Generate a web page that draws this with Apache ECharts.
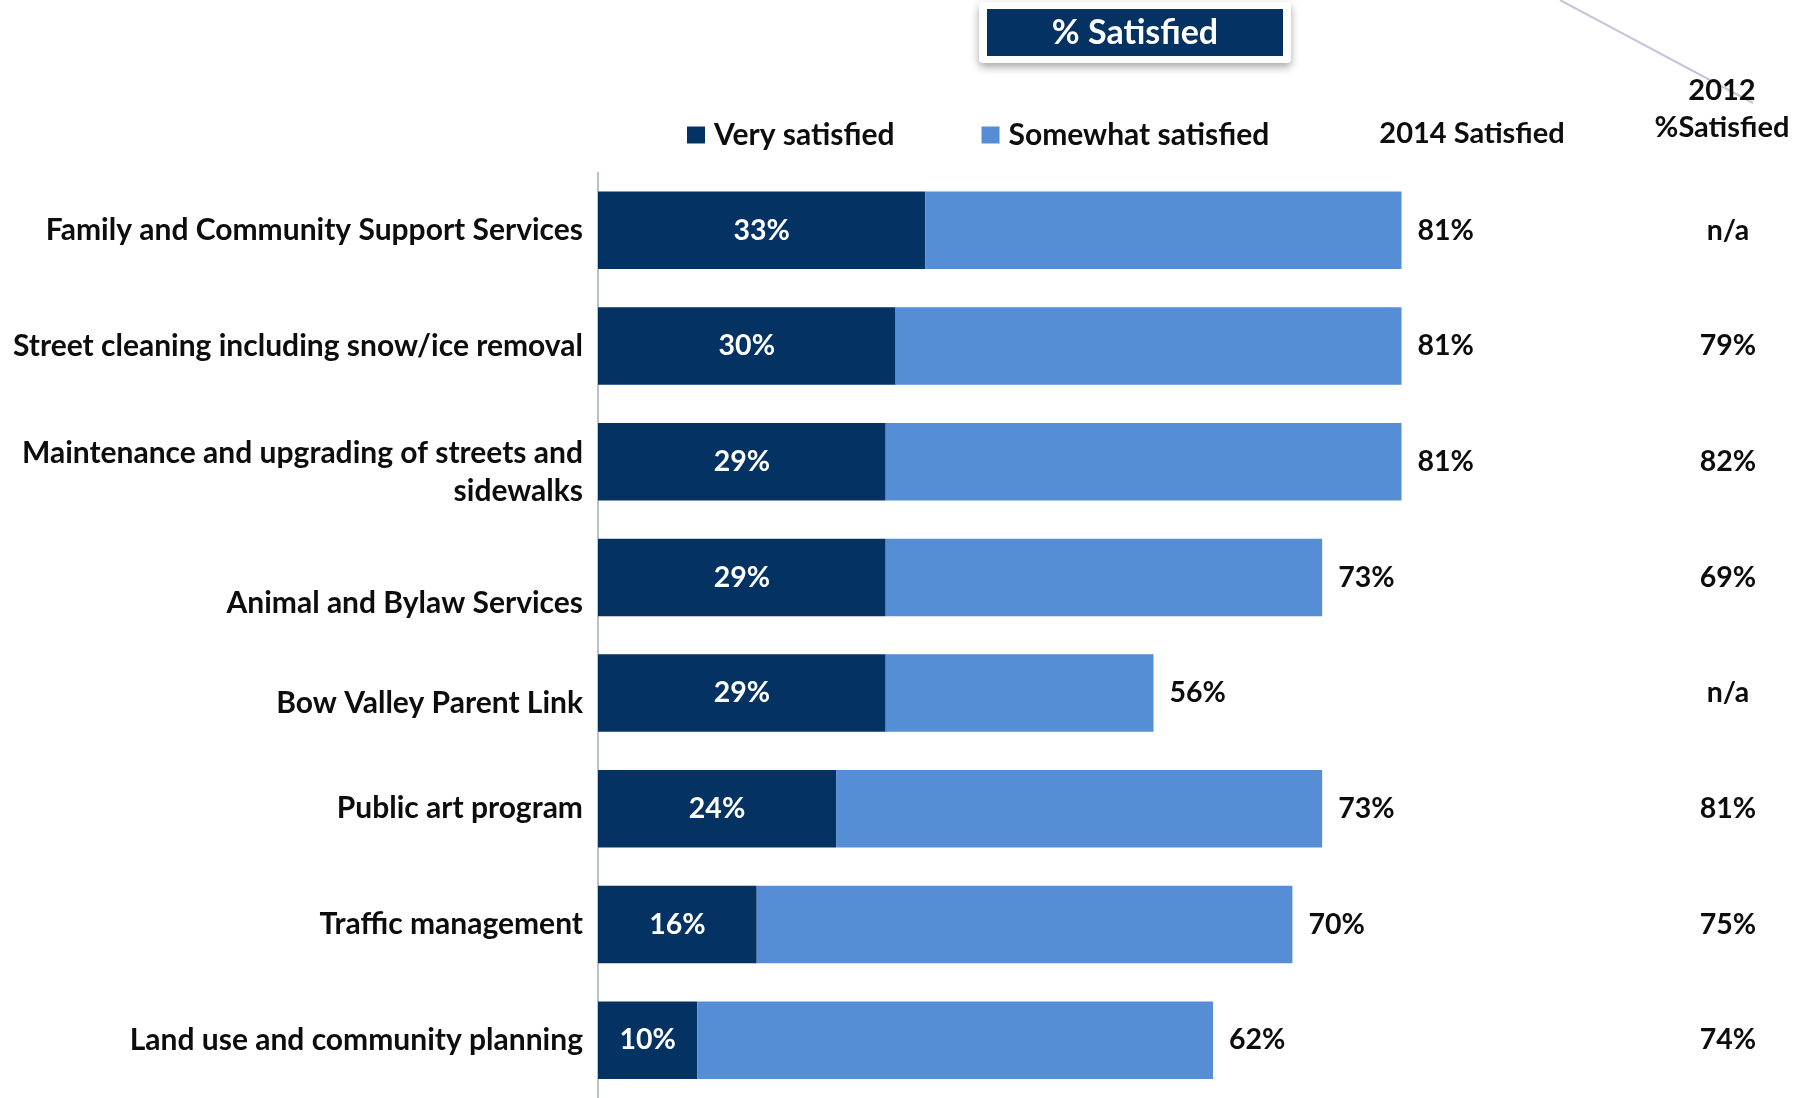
<!DOCTYPE html>
<html>
<head>
<meta charset="utf-8">
<style>
  html, body { margin: 0; padding: 0; background: #ffffff; }
  #chart { width: 1796px; height: 1098px; }
</style>
<script src="https://cdn.jsdelivr.net/npm/echarts@6/dist/echarts.min.js"></script>
</head>
<body>
<div id="chart"></div>
<script>
// Services rated, top to bottom
const categories = [
  'Family and Community Support Services',
  'Street cleaning including snow/ice removal',
  'Maintenance and upgrading of streets and\nsidewalks',
  'Animal and Bylaw Services',
  'Bow Valley Parent Link',
  'Public art program',
  'Traffic management',
  'Land use and community planning'
];
// 2014 results (%)
const verySatisfied = [33, 30, 29, 29, 29, 24, 16, 10];
const totalSatisfied2014 = [81, 81, 81, 73, 56, 73, 70, 62];
// 2012 % satisfied (text column)
const satisfied2012 = ['n/a', '79%', '82%', '69%', 'n/a', '81%', '75%', '74%'];

const somewhatSatisfied = totalSatisfied2014.map((t, i) => t - verySatisfied[i]);

const FONT = 'Lato';
const NAVY = '#033263';
const LIGHT = '#558ED5';
const INK = '#0d0d0d';
const LABEL_SIZE = 30;
const NUM_SIZE = 28.5;

// a few category labels sit a little lower than their bars:
// an invisible spacer line of this height is placed above the text (px)
const labelDrop = { 2: 22, 3: 52, 4: 20 };
const labelBase = { fontFamily: FONT, fontWeight: 'bold', fontSize: LABEL_SIZE, color: INK, lineHeight: 38 };
const richStyles = { base: Object.assign({}, labelBase) };
Object.keys(labelDrop).forEach(k => {
  richStyles['gap' + k] = { fontSize: 1, lineHeight: labelDrop[k], height: labelDrop[k] };
});

const chart = echarts.init(document.getElementById('chart'));

chart.setOption({
  backgroundColor: '#ffffff',
  animation: false,
  textStyle: { fontFamily: FONT },
  grid: { left: 598, top: 172.5, width: 992, height: 929, containLabel: false },
  legend: {
    left: 687, top: 120, padding: 0,
    itemWidth: 18, itemHeight: 17, itemGap: 87,
    icon: 'rect',
    textStyle: { fontFamily: FONT, fontWeight: 'bold', fontSize: LABEL_SIZE, color: INK, padding: [0, 0, 0, 4] },
    data: ['Very satisfied', 'Somewhat satisfied']
  },
  xAxis: {
    type: 'value', min: 0, max: 100, show: false,
    splitLine: { show: false }
  },
  yAxis: {
    type: 'category', inverse: true,
    data: categories,
    axisLine: { show: true, lineStyle: { color: '#a3acbd', width: 1.5 } },
    axisTick: { show: false },
    axisLabel: Object.assign({}, labelBase, {
      margin: 15, align: 'right', verticalAlign: 'middle',
      formatter: (value, index) => {
        if (!labelDrop[index]) return value;
        const lines = value.split('\n').map(line => '{base|' + line + '}');
        return ['{gap' + index + '| }'].concat(lines).join('\n');
      },
      rich: richStyles
    })
  },
  series: [
    {
      name: 'Very satisfied', type: 'bar', stack: 'sat',
      barWidth: 77.5,
      itemStyle: { color: NAVY },
      label: {
        show: true, position: 'inside', color: '#ffffff',
        fontFamily: FONT, fontWeight: 'bold', fontSize: NUM_SIZE,
        formatter: p => p.value + '%'
      },
      data: verySatisfied
    },
    {
      name: 'Somewhat satisfied', type: 'bar', stack: 'sat',
      barWidth: 77.5,
      itemStyle: { color: LIGHT },
      label: {
        show: true, position: 'right', distance: 16, color: INK,
        fontFamily: FONT, fontWeight: 'bold', fontSize: NUM_SIZE,
        formatter: p => totalSatisfied2014[p.dataIndex] + '%'
      },
      data: somewhatSatisfied
    },
    {
      name: '2012', type: 'custom',
      clip: false,
      data: satisfied2012.map((s, i) => [0, i]),
      renderItem: (params, api) => {
        const y = api.coord([0, categories[params.dataIndex]])[1];
        return {
          type: 'text',
          style: {
            x: 1728, y: y,
            text: satisfied2012[params.dataIndex],
            align: 'center', verticalAlign: 'middle',
            fontFamily: FONT, fontWeight: 'bold', fontSize: NUM_SIZE, fill: INK
          }
        };
      }
    }
  ],
  graphic: [
    // connector line at top right
    {
      type: 'line', silent: true,
      shape: { x1: 1560, y1: 0, x2: 1753, y2: 103 },
      style: { stroke: '#c6c6da', lineWidth: 2 }
    },
    // title badge
    {
      type: 'rect', silent: true,
      shape: { x: 979, y: 2, width: 312, height: 61, r: 4 },
      style: { fill: '#ffffff', shadowBlur: 8, shadowOffsetY: 4, shadowColor: 'rgba(0,0,0,0.35)' }
    },
    {
      type: 'rect', silent: true,
      shape: { x: 987, y: 9, width: 296, height: 47 },
      style: { fill: NAVY }
    },
    {
      type: 'text', silent: true,
      style: {
        x: 1135, y: 33, text: '% Satisfied', align: 'center', verticalAlign: 'middle',
        fontFamily: FONT, fontWeight: 'bold', fontSize: 34, fill: '#ffffff'
      }
    },
    // column headers
    {
      type: 'text', silent: true,
      style: {
        x: 1472, y: 134, text: '2014 Satisfied', align: 'center', verticalAlign: 'middle',
        fontFamily: FONT, fontWeight: 'bold', fontSize: 29, fill: INK
      }
    },
    {
      type: 'text', silent: true,
      style: {
        x: 1722, y: 91, text: '2012', align: 'center', verticalAlign: 'middle',
        fontFamily: FONT, fontWeight: 'bold', fontSize: 29, fill: INK
      }
    },
    {
      type: 'text', silent: true,
      style: {
        x: 1722, y: 128, text: '%Satisfied', align: 'center', verticalAlign: 'middle',
        fontFamily: FONT, fontWeight: 'bold', fontSize: 29, fill: INK
      }
    }
  ]
});
</script>
</body>
</html>
